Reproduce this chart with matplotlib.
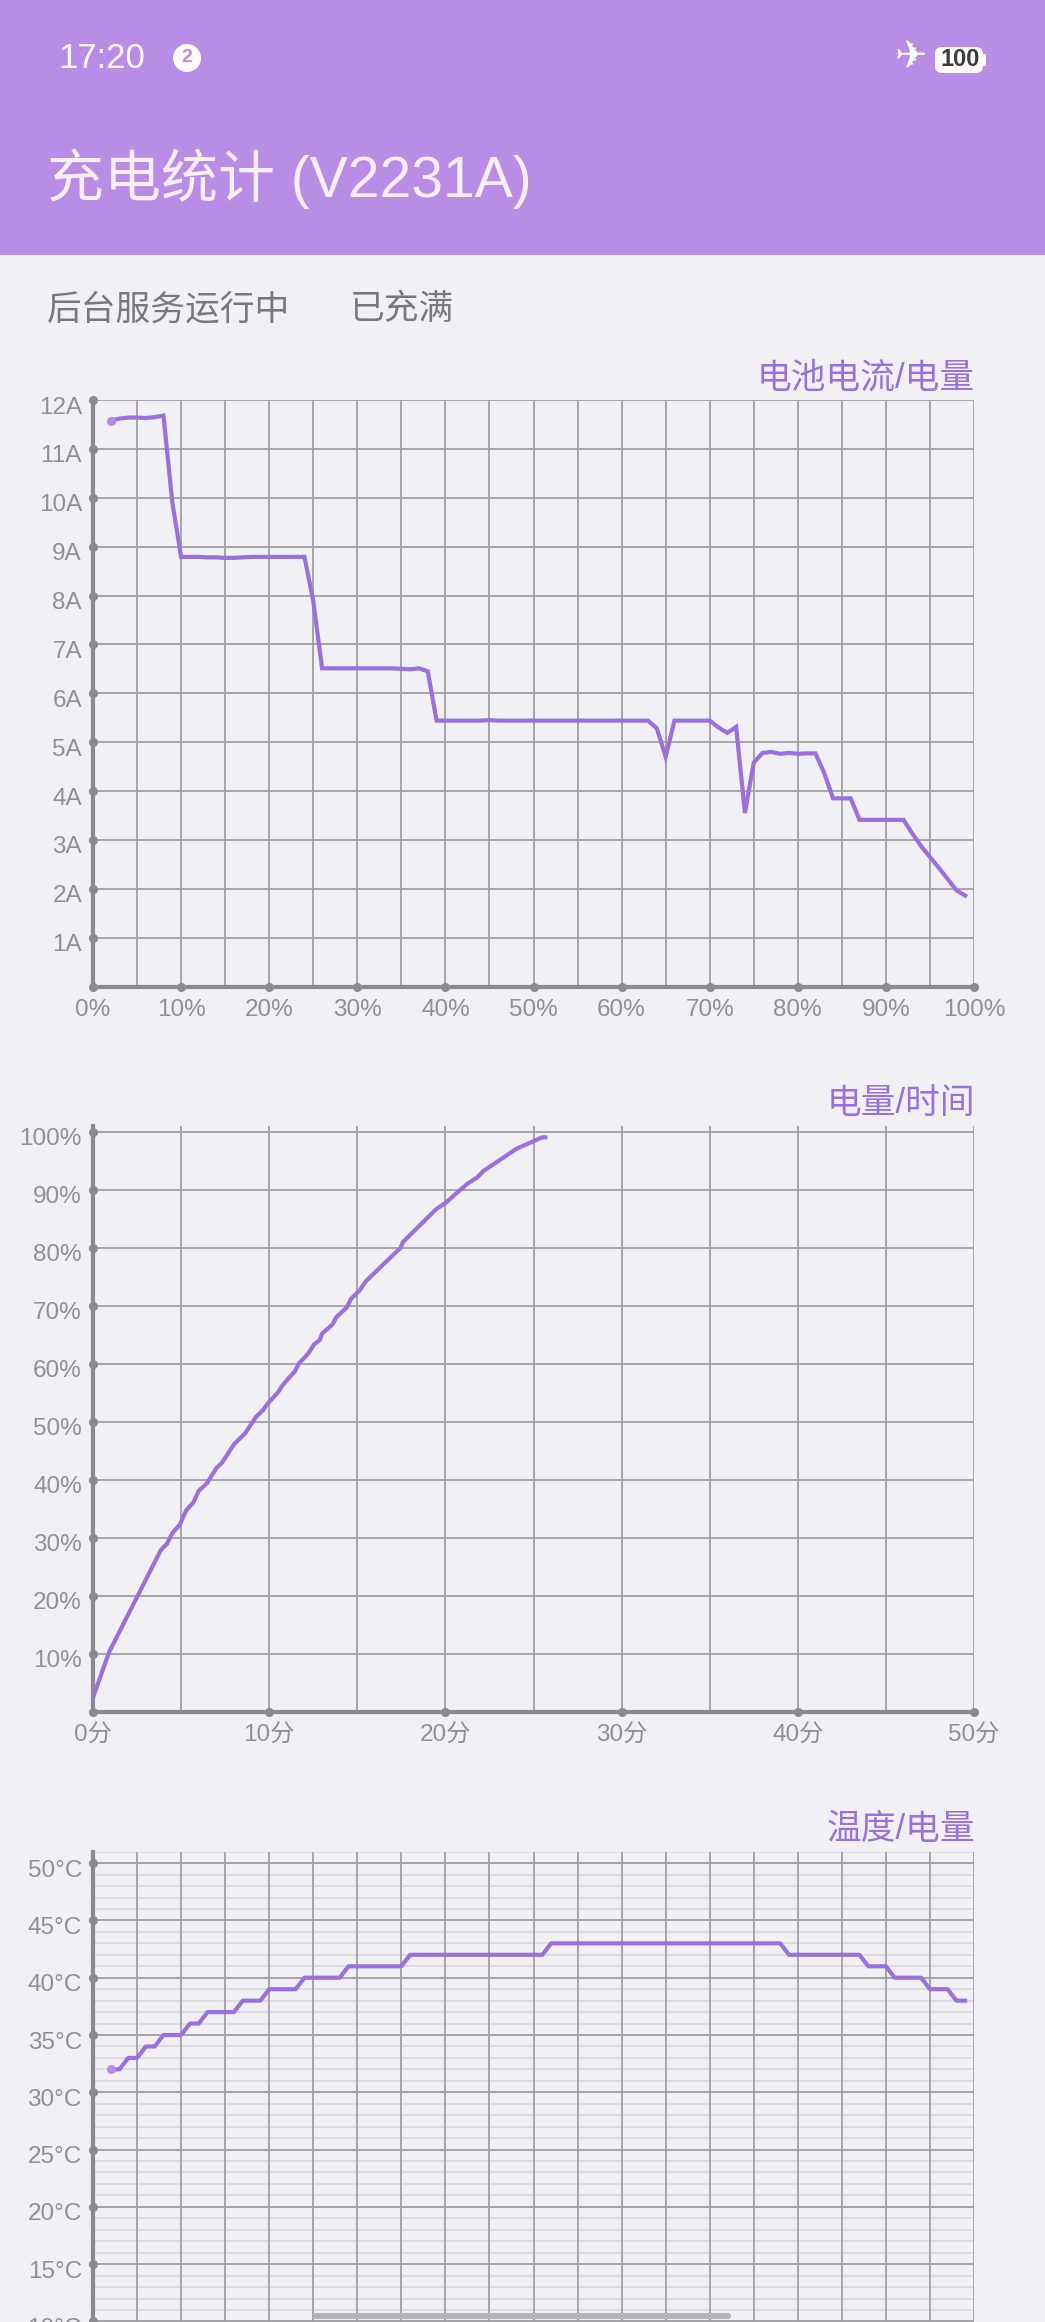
"""
Charging statistics screen: current, level and temperature charts.
"""

import matplotlib
matplotlib.use("Agg")
import matplotlib.pyplot as plt
from matplotlib.patches import Circle, FancyBboxPatch, Rectangle
from matplotlib.transforms import ScaledTranslation

plt.rcParams["font.family"] = ["Liberation Sans", "Noto Sans CJK SC", "DejaVu Sans"]

W, H = 1045, 2322

BG = "#f1f0f5"
HEADER = "#b98ce6"
LINE = "#9a6fe0"
DOT = "#b48ae6"
GRID = "#a09fa3"
MINOR = "#dad9de"
AXIS = "#8b8a8e"
TICK_TEXT = "#908f93"
SUB_TEXT = "#78777c"

SCREEN_TITLE = "充电统计 (V2231A)"
STATUS_LEFT = "后台服务运行中"
STATUS_RIGHT = "已充满"

# chart 1: current (A) per battery percent
level_pct = list(range(2, 100))
current_a = [
    11.58, 11.62, 11.64, 11.64, 11.63, 11.65, 11.68, 9.91, 8.79, 8.79,
    8.79, 8.78, 8.78, 8.77, 8.77, 8.78, 8.79, 8.79, 8.79, 8.79,
    8.79, 8.79, 8.79, 7.89, 6.51, 6.51, 6.51, 6.51, 6.51, 6.51,
    6.51, 6.51, 6.51, 6.50, 6.49, 6.51, 6.45, 5.44, 5.44, 5.44,
    5.44, 5.44, 5.44, 5.45, 5.44, 5.44, 5.44, 5.44, 5.44, 5.44,
    5.44, 5.44, 5.44, 5.44, 5.44, 5.44, 5.44, 5.44, 5.44, 5.44,
    5.44, 5.44, 5.28, 4.70, 5.44, 5.44, 5.44, 5.44, 5.44, 5.30,
    5.19, 5.31, 3.55, 4.58, 4.78, 4.80, 4.76, 4.78, 4.76, 4.77,
    4.77, 4.37, 3.85, 3.85, 3.85, 3.41, 3.41, 3.41, 3.41, 3.41,
    3.41, 3.13, 2.87, 2.65, 2.43, 2.20, 1.97, 1.86,
]
current_ticks = list(range(1, 13))
current_labels = [f"{v}A" for v in current_ticks]

# chart 2: battery percent over minutes
minutes = [
    0, 0.91, 3.85, 4.2, 4.5, 4.93, 5.3, 5.7, 6.0, 6.46, 7.0, 7.33, 8.02, 8.63,
    9.24, 9.67, 9.93, 10.48, 10.74, 11.07, 11.46, 11.67, 12.2, 12.54, 12.87,
    13.0, 13.6, 13.8, 14.4, 14.65, 15.15, 15.48, 17.43, 17.6, 19.5, 20.04,
    20.6, 21.24, 21.8, 22.15, 24.07, 25.04, 25.48, 25.67,
]
level_over_time = [
    2.5, 10.3, 27.9, 29, 30.8, 32.3, 34.8, 36.1, 38.1, 39.4, 42, 43, 46.2, 48,
    50.8, 52.1, 53.2, 55, 56.2, 57.4, 58.7, 60, 61.7, 63.3, 64.1,
    65.2, 66.8, 68, 69.7, 71.2, 72.7, 74.2, 79.9, 81, 86.7, 87.8,
    89.3, 91, 92.1, 93.2, 97.1, 98.4, 99, 99,
]
level_ticks = list(range(10, 101, 10))
level_labels = [f"{v}%" for v in level_ticks]
minute_ticks = list(range(0, 51, 10))
minute_labels = [f"{v}分" for v in minute_ticks]

# chart 3: temperature per battery percent
temp_c = [
    32, 32, 33, 33, 34, 34, 35, 35, 35, 36, 36, 37, 37, 37, 37, 38, 38, 38,
    39, 39, 39, 39, 40, 40, 40, 40, 40, 41, 41, 41, 41, 41, 41, 41, 42, 42,
    42, 42, 42, 42, 42, 42, 42, 42, 42, 42, 42, 42, 42, 42, 43, 43, 43, 43,
    43, 43, 43, 43, 43, 43, 43, 43, 43, 43, 43, 43, 43, 43, 43, 43, 43, 43,
    43, 43, 43, 43, 43, 42, 42, 42, 42, 42, 42, 42, 42, 42, 41, 41, 41, 40,
    40, 40, 40, 39, 39, 39, 38, 38,
]
temp_ticks = list(range(10, 51, 5))
temp_labels = [f"{v}°C" for v in temp_ticks]
temp_minor = list(range(1, 52))

pct_ticks = list(range(0, 101, 10))
pct_labels = [f"{v}%" for v in pct_ticks]


def px_axes(fig, left, top, right, bottom):
    return fig.add_axes([left / W, 1 - bottom / H, (right - left) / W, (bottom - top) / H])


def style_chart(ax, fig, xlim, ylim, xgrid, ygrid, xticks, xlabels, yticks, ylabels, title, title_y):
    ax.set_facecolor("none")
    ax.set_xlim(*xlim)
    ax.set_ylim(*ylim)
    ax.vlines(xgrid, ylim[0], ylim[1], color=GRID, lw=1.3, zorder=1)
    ax.hlines(ygrid, xlim[0], xlim[1], color=GRID, lw=1.3, zorder=1)
    for side in ["top", "right"]:
        ax.spines[side].set_visible(False)
    for side in ["left", "bottom"]:
        ax.spines[side].set_color(AXIS)
        ax.spines[side].set_linewidth(3)
        ax.spines[side].set_zorder(2)
    ax.set_xticks(xticks, xlabels)
    ax.set_yticks(yticks, ylabels)
    ax.tick_params(axis="x", length=0, pad=9, labelsize=17.5, labelcolor=TICK_TEXT)
    ax.tick_params(axis="y", length=0, pad=8, labelsize=17.5, labelcolor=TICK_TEXT)
    offset = ScaledTranslation(0, -5 / 100, fig.dpi_scale_trans)
    for label in ax.get_yticklabels():
        label.set_transform(label.get_transform() + offset)
    ax.plot([xlim[0]] * len(yticks), yticks, "o", color=AXIS, ms=5.5, clip_on=False, zorder=3)
    if xticks:
        ax.plot(xticks, [ylim[0]] * len(xticks), "o", color=AXIS, ms=5.5, clip_on=False, zorder=3)
    fig.text(975 / W, 1 - title_y / H, title, color=LINE, fontsize=25, ha="right", va="center")


fig = plt.figure(figsize=(W / 100, H / 100), dpi=100, facecolor=BG)

# app bar and status bar
ui = fig.add_axes([0, 0, 1, 1])
ui.set_xlim(0, W)
ui.set_ylim(H, 0)
ui.axis("off")
ui.add_patch(Rectangle((0, 0), W, 255, color=HEADER, lw=0))
ui.text(58, 59, "17:20", color="white", fontsize=25, va="center")
ui.add_patch(Circle((187, 58), 14, color="white", lw=0))
ui.text(187, 58, "2", color=HEADER, fontsize=14, weight="bold", ha="center", va="center")
ui.text(911, 57, "✈", color="white", fontsize=28, family="DejaVu Sans", ha="center", va="center")
ui.add_patch(FancyBboxPatch((935, 47), 48, 26, boxstyle="round,pad=0,rounding_size=7", color="white", lw=0))
ui.add_patch(Rectangle((983, 54), 3, 12, color="white", lw=0))
ui.text(960, 60, "100", color="#3c3c3e", fontsize=17, weight="bold", ha="center", va="center")
ui.text(47, 179, SCREEN_TITLE, color="#f6eff9", fontsize=41, va="center")
ui.text(47, 310, STATUS_LEFT, color=SUB_TEXT, fontsize=25, va="center")
ui.text(350, 310, STATUS_RIGHT, color=SUB_TEXT, fontsize=25, va="center")

# current / level
ax1 = px_axes(fig, 93, 400, 974, 986.5)
style_chart(ax1, fig, (0, 100), (0, 12), list(range(5, 101, 5)), current_ticks,
            pct_ticks, pct_labels, current_ticks, current_labels, "电池电流/电量", 378)
ax1.plot(level_pct, current_a, color=LINE, lw=3, solid_joinstyle="miter", zorder=4)
ax1.plot(level_pct[0], current_a[0], "o", color=DOT, ms=5.5, zorder=5)

# level / time
ax2 = px_axes(fig, 93, 1125.8, 974, 1712)
style_chart(ax2, fig, (0, 50), (0, 101), list(range(5, 51, 5)), level_ticks,
            minute_ticks, minute_labels, level_ticks, level_labels, "电量/时间", 1104)
ax2.plot(minutes, level_over_time, color=LINE, lw=3, zorder=4)

# temperature / level, runs past the bottom of the screen so its x labels are not visible
ax3 = px_axes(fig, 93, 1851.7, 974, 2436)
ax3.hlines(temp_minor, 0, 100, color=MINOR, lw=1.3, zorder=0)
style_chart(ax3, fig, (0, 100), (0, 51), list(range(5, 101, 5)), temp_ticks,
            [], [], temp_ticks, temp_labels, "温度/电量", 1829)
ax3.plot(level_pct, temp_c, color=LINE, lw=3, zorder=4)
ax3.plot(level_pct[0], temp_c[0], "o", color=DOT, ms=5.5, zorder=5)

# gesture bar on top of everything
nav = fig.add_axes([0, 0, 1, 1], facecolor="none")
nav.set_xlim(0, W)
nav.set_ylim(H, 0)
nav.axis("off")
nav.add_patch(FancyBboxPatch((313, 2313), 418, 6, boxstyle="round,pad=0,rounding_size=3", color="#b4b3b6", lw=0))

fig.savefig("out.png", dpi=100, facecolor=BG)
